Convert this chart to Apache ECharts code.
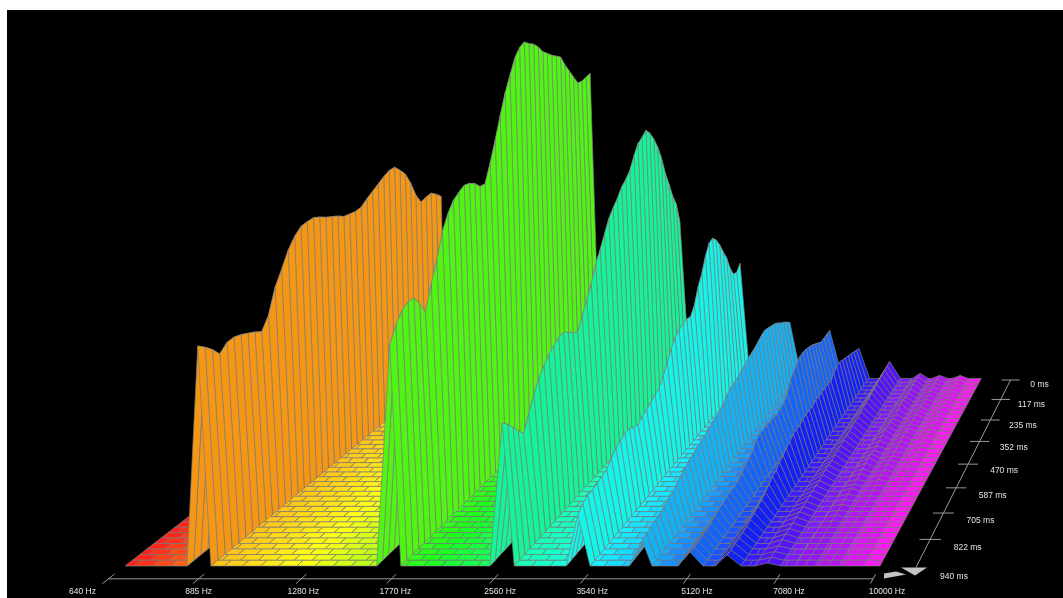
<!DOCTYPE html>
<html>
<head>
<meta charset="utf-8">
<style>
html,body{margin:0;padding:0;width:1063px;height:598px;background:#fff;overflow:hidden}
#paper{position:absolute;left:7px;top:10px;right:0;bottom:0;background:#000}
#chart{position:absolute;left:0;top:0;width:1063px;height:598px}
</style>
<script src="https://cdn.jsdelivr.net/npm/echarts@6/dist/echarts.min.js"></script>
</head>
<body>
<div id="paper"></div>
<div id="chart"></div>
<script>
// ---- tick labels ----
const freqTickHz = [640,885,1280,1770,2560,3540,5120,7080,10000];
const freqTickLabels = ['640 Hz','885 Hz','1280 Hz','1770 Hz','2560 Hz','3540 Hz','5120 Hz','7080 Hz','10000 Hz'];
const timeTickMs = [0,117,235,352,470,587,705,822,940];
const timeTickLabels = ['0 ms','117 ms','235 ms','352 ms','470 ms','587 ms','705 ms','822 ms','940 ms'];

// ---- ridge levels, one value per time slice, slice 0 = 940 ms ... slice 40 = 0 ms ----
const orangeLevels = [220,213,205,195,201,201,198,194,190,185,196,219,232,246,255,260,260,259,255,250,246,242,237,235,233,233,237,240,243,246,248,247,240,232,219,203,192,193,193,188,182];
const greenLevels  = [221,235,244,247,246,234,220,243,262,285,298,306,309,311,308,303,295,293,309,327,347,365,378,391,397,398,392,387,380,371,365,359,354,349,337,327,317,307,305,305,305];
const tealLevels   = [143,136,127,118,110,124,138,149,156,162,166,169,169,164,159,154,165,177,188,203,213,224,235,241,246,253,256,261,271,279,281,284,277,267,255,240,221,206,190,178,156];
const cyanLevels   = [51,57,59,59,60,62,63,69,74,76,78,78,74,72,75,77,79,82,84,91,100,109,116,119,121,121,119,126,140,149,162,171,172,166,157,146,136,122,112,110,115];
const skyLevels    = [26,27,28,29,29,31,34,35,38,41,43,46,47,49,50,51,52,55,56,56,59,63,66,66,67,69,71,73,74,75,77,79,80,78,76,74,71,67,64,60,56];
const blueLevels   = [14,13,13,14,13,15,17,18,19,20,20,20,21,23,27,29,32,37,39,38,37,37,36,35,36,37,42,51,55,59,62,62,61,59,57,54,51,48,48,48,48];
const indigoLevels = [11,10,11,11,11,12,13,14,16,17,19,22,25,26,29,31,33,35,38,38,37,39,39,39,38,40,39,39,39,39,37,41,44,44,42,40,38,36,34,32,30];
const violetLevels = [3,3,3,3,4,4,4,4,5,5,5,5,6,6,6,6,7,7,7,7,8,8,8,9,9,9,10,10,10,11,11,12,12,13,13,14,15,15,16,16,17];
const rippleALevels = [0,0,0,0,0,0,0,0,1,1,1,2,2,2,3,2,2,3,3,4,5,4,3,3,4,5,6,5,5,4,4,5,6,6,5,5,5,6,6,5,5];
const rippleBLevels = [0,0,0,0,0,0,0,0,0,0,0,0,0,0,1,1,2,2,2,3,3,2,2,3,3,4,4,3,3,3,4,4,3,3,3,3,3,3,3,3,3];
const rippleCLevels = [0,0,0,0,0,0,0,0,0,0,0,0,0,0,0,0,0,0,1,1,1,2,2,2,2,3,3,2,2,3,3,3,4,3,3,3,3,3,3,3,3];
const ridgeLevels = [orangeLevels,greenLevels,tealLevels,cyanLevels,skyLevels,blueLevels,indigoLevels,violetLevels,rippleALevels,rippleBLevels,rippleCLevels];

// ---- where each ridge sits on the frequency axis (Hz) ----
const footLeftHz      = [802,1600,2416,3190,4010,4790,5490,6340,7340,8010,8780];
const footRightHz     = [875,1747,2640,3480,4360,5250,6030,6970,7900,8620,9430];
const footRightBackHz = [912,1820,2720,3556,4480,5380,6070,6970,7900,8620,9430];
const crestFrontHz    = [834,1678,2527,3328,4205,5008,5730,6640,7610,8300,9100];
const crestBackHz     = [894,1740,2600,3402,4250,5080,5790,6640,7610,8300,9100];

// ---- colour scale: hue against frequency ----
const hueStopHz  = [640,802,834,875,1211,1600,1678,1747,2416,2527,2640,3190,3480,4010,4360,4790,5250,6030,7470,10000];
const hueStopDeg = [0,22,35,44,60,82,104,112,140,155,160,172,182,195,200,215,222,245,272,305];

// ---- projection settings ----
const SLICES = 40, LAST_MS = 940;
const VANISH_OCT = 6.83, DEPTH = 0.0057, HORIZON = 1010, CELL_OCT = 0.095;
const GRID = 'rgba(125,125,125,0.85)', INK = '#e2e2e2', FONT = '8.5px "Liberation Sans", Arial, sans-serif';

const toOct = hz => Math.log2(hz / 640);
const depthScale = s => 1 / (1 + DEPTH * s);
// frequency (as octaves), slice, level -> a pixel, through the chart's own axes
function project(api, oct, s, level) {
  const k = depthScale(s);
  const o = VANISH_OCT + (oct - VANISH_OCT) * k;
  return api.coord([640 * Math.pow(2, o), HORIZON * (1 - k) + level]);
}
function hueAt(hz) {
  let i = 0;
  while (i < hueStopHz.length - 2 && hz > hueStopHz[i + 1]) i++;
  const t = (toOct(hz) - toOct(hueStopHz[i])) / (toOct(hueStopHz[i + 1]) - toOct(hueStopHz[i]));
  return hueStopDeg[i] + (hueStopDeg[i + 1] - hueStopDeg[i]) * Math.max(0, Math.min(1, t));
}
function hsv(h, s, v) {
  const f = n => { const k = (n + h / 60) % 6; return Math.round(255 * (v - v * s * Math.max(0, Math.min(k, 4 - k, 1)))); };
  return `rgb(${f(5)},${f(3)},${f(1)})`;
}
const cellStyle = fill => ({ fill, stroke: GRID, lineWidth: 0.8 });
const poly = (points, fill) => ({ type: 'polygon', silent: true, shape: { points }, style: cellStyle(fill) });

// one floor run between two ridges
function floorSeries(fromHz, toHz, z) {
  const a = toOct(fromHz), b = toOct(toHz), data = [];
  for (let s = SLICES; s >= 1; s--) {
    const off = s % 2 ? CELL_OCT / 2 : 0;
    let n = Math.floor((a - off) / CELL_OCT);
    for (; off + n * CELL_OCT < b; n++) {
      const l = Math.max(a, off + n * CELL_OCT), r = Math.min(b, off + (n + 1) * CELL_OCT);
      if (r - l > 1e-6) data.push([640 * Math.pow(2, (l + r) / 2), 0, s, l, r]);
    }
  }
  return {
    type: 'custom', coordinateSystem: 'cartesian2d', z, silent: true, animation: false, clip: false, data,
    renderItem(params, api) {
      const s = api.value(2), l = api.value(3), r = api.value(4);
      return poly([project(api, l, s, 0), project(api, r, s, 0), project(api, r, s - 1, 0), project(api, l, s - 1, 0)],
        hsv(hueAt(api.value(0)), 0.9, 1));
    }
  };
}
// one ridge: both flanks of every time slice, back to front
function ridgeSeries(i, z) {
  const levels = ridgeLevels[i], fill = hsv(hueAt(crestFrontHz[i]), 0.92, 0.96);
  const L = toOct(footLeftHz[i]);
  const footOct = s => toOct(footRightHz[i]) + (toOct(footRightBackHz[i]) - toOct(footRightHz[i])) * s / SLICES;
  const crestOct = s => toOct(crestFrontHz[i]) + (toOct(crestBackHz[i]) - toOct(crestFrontHz[i])) * s / SLICES;
  const data = [];
  for (let s = SLICES; s >= 1; s--) data.push([crestFrontHz[i], levels[s], s, levels[s - 1]]);
  return {
    type: 'custom', coordinateSystem: 'cartesian2d', z, silent: true, animation: false, clip: false, data,
    renderItem(params, api) {
      const s = api.value(2), far = api.value(1), near = api.value(3);
      const cf = project(api, crestOct(s), s, far), cn = project(api, crestOct(s - 1), s - 1, near);
      return { type: 'group', children: [
        poly([project(api, L, s, 0), cf, cn, project(api, L, s - 1, 0)], fill),
        poly([cf, project(api, footOct(s), s, 0), project(api, footOct(s - 1), s - 1, 0), cn], fill)
      ] };
    }
  };
}

const series = [];
let z = 2, prevHz = 640;
ridgeLevels.forEach((_, i) => {
  series.push(floorSeries(prevHz, footLeftHz[i], z++));
  series.push(ridgeSeries(i, z++));
  prevHz = footRightHz[i];
});
series.push(floorSeries(prevHz, 10000, z++));

// frequency axis along the front of the floor
const AXIS_S = -2.2, axisLine = { stroke: '#9a9a9a', lineWidth: 1 };
series.push({
  type: 'custom', coordinateSystem: 'cartesian2d', z: z++, silent: true, animation: false, clip: false,
  data: freqTickHz.map((hz, i) => [hz, 0, i]),
  renderItem(params, api) {
    const hz = api.value(0), i = api.value(2), o = toOct(hz);
    const base = project(api, o, AXIS_S, 0);
    const dx = i === 0 ? -26 : 4 * (o - 0.47);
    const kids = [
      { type: 'line', silent: true, shape: { x1: project(api, o, -3, 0)[0], y1: project(api, o, -3, 0)[1], x2: project(api, o, -1.4, 0)[0], y2: project(api, o, -1.4, 0)[1] }, style: axisLine },
      { type: 'text', silent: true, style: { text: freqTickLabels[i], x: base[0] + dx, y: base[1] + 13, fill: INK, font: FONT, align: 'center', verticalAlign: 'middle' } }
    ];
    if (i === 0) {
      const e = project(api, toOct(10000), AXIS_S, 0);
      kids.push({ type: 'line', silent: true, shape: { x1: base[0], y1: base[1], x2: e[0], y2: e[1] }, style: axisLine });
    }
    return { type: 'group', children: kids };
  }
});
// time axis along the right of the floor
const TIME_AXIS_OCT = toOct(11400), TICK_OCT = 0.058;
series.push({
  type: 'custom', coordinateSystem: 'cartesian2d', z: z++, silent: true, animation: false, clip: false,
  data: timeTickMs.map((ms, i) => [11400, 0, ms, i]),
  renderItem(params, api) {
    const ms = api.value(2), i = api.value(3), s = (LAST_MS - ms) / LAST_MS * SLICES;
    const c = project(api, TIME_AXIS_OCT, s, -1.5);
    const a = project(api, TIME_AXIS_OCT - TICK_OCT, s, -1.5), b = project(api, TIME_AXIS_OCT + TICK_OCT, s, -1.5);
    const labelDx = s <= 20 ? 38 - 0.1 * s : 36 - (s - 20) * 0.35;
    const kids = [
      { type: 'text', silent: true, style: { text: timeTickLabels[i], x: c[0] + labelDx, y: c[1] + 5 + 0.1 * (40 - s), fill: INK, font: FONT, align: 'center', verticalAlign: 'middle' } }
    ];
    if (ms === LAST_MS) {
      const top = project(api, TIME_AXIS_OCT, SLICES, -1.5);
      kids.push({ type: 'line', silent: true, shape: { x1: top[0], y1: top[1], x2: c[0], y2: c[1] }, style: axisLine });
      const head = { fill: '#c4c4c4' };
      kids.push({ type: 'polygon', silent: true, shape: { points: [[c[0] - 15, c[1]], [c[0] + 11, c[1]], [c[0] - 1, c[1] + 8]] }, style: head });
      kids.push({ type: 'polygon', silent: true, shape: { points: [[c[0] - 32, c[1] + 11], [c[0] - 32, c[1] + 6], [c[0] - 20, c[1] + 4], [c[0] - 10, c[1] + 7]] }, style: head });
    } else {
      kids.push({ type: 'line', silent: true, shape: { x1: a[0], y1: a[1], x2: b[0], y2: b[1] }, style: axisLine });
    }
    return { type: 'group', children: kids };
  }
});

const chart = echarts.init(document.getElementById('chart'), null, { renderer: 'canvas' });
chart.setOption({
  animation: false,
  backgroundColor: 'transparent',
  tooltip: { show: false },
  grid: { left: 125, width: 755, top: 10, bottom: 32, containLabel: false },
  xAxis: { type: 'log', logBase: 2, min: 640, max: 10000, show: false },
  yAxis: { type: 'value', min: 0, max: 556, show: false },
  series
});
</script>
</body>
</html>
